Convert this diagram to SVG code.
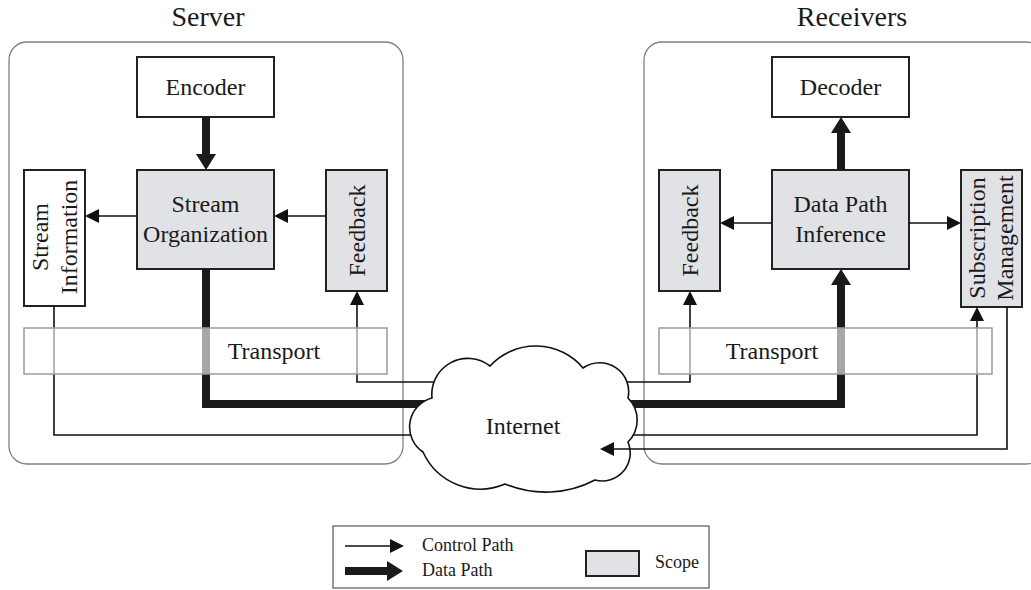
<svg xmlns="http://www.w3.org/2000/svg" xmlns:xlink="http://www.w3.org/1999/xlink" width="1031" height="590" viewBox="0 0 1031 590">
  <style>
    text { font-family: "Liberation Serif", "Times New Roman", serif; fill: #1a1a1a; }
    .title { font-size: 28px; text-anchor: middle; }
    .lbl { font-size: 24px; text-anchor: middle; }
    .leg { font-size: 18px; }
    .container { fill: none; stroke: #808080; stroke-width: 1.3; }
    .box { fill: #ffffff; stroke: #222222; stroke-width: 2; }
    .scope { fill: #e0e2e6; stroke: #222222; stroke-width: 2; }
    .band { fill: #ffffff; fill-opacity: 0.62; stroke: #9a9a9a; stroke-width: 1.5; }
    .ctrl { fill: none; stroke: #111111; stroke-width: 1.6; }
    .data { fill: none; stroke: #1a1a1a; stroke-width: 8; stroke-linejoin: miter; }
    .cloud { fill: #ffffff; stroke: #111111; stroke-width: 1.6; }
  </style>
  <defs>
    <marker id="ctrlHead" markerUnits="userSpaceOnUse" viewBox="0 0 14 14" refX="0" refY="7" markerWidth="14" markerHeight="14" orient="auto">
      <path d="M0,0 L14,7 L0,14 Z" fill="#111111"/>
    </marker>
    <marker id="dataHead" markerUnits="userSpaceOnUse" viewBox="0 0 16 20" refX="0" refY="10" markerWidth="16" markerHeight="20" orient="auto">
      <path d="M0,0 L16,10 L0,20 Z" fill="#1a1a1a"/>
    </marker>
    <path id="cloudShape" d="M423,452 A30,30 0 0 1 432,398 A36,36 0 0 1 490,366 A62,62 0 0 1 583,368 A29,29 0 0 1 628,398 A31,31 0 0 1 628,442 A28,28 0 0 1 595,480 A106,106 0 0 1 505,484 A63,63 0 0 1 423,452 Z"/>
    <!-- hides the parts of links that run behind the Internet cloud -->
    <mask id="behindCloud" maskUnits="userSpaceOnUse" x="0" y="0" width="1031" height="590">
      <rect x="0" y="0" width="1031" height="590" fill="#ffffff"/>
      <use xlink:href="#cloudShape" fill="#000000"/>
    </mask>
  </defs>

  <rect width="1031" height="590" fill="#ffffff"/>

  <!-- Server side -->
  <g id="server">
    <rect class="container" x="9" y="42" width="394" height="422" rx="18"/>
    <text class="title" x="208" y="26">Server</text>
  </g>
  <!-- Receiver side -->
  <g id="receivers">
    <rect class="container" x="644" y="42" width="400" height="422" rx="18"/>
    <text class="title" x="852" y="26">Receivers</text>
  </g>

  <g id="encoder">
    <rect class="box" x="137" y="57" width="137" height="60"/>
    <text class="lbl" x="205.5" y="95">Encoder</text>
  </g>
  <g id="stream-organization">
    <rect class="scope" x="137" y="170" width="137" height="99"/>
    <text class="lbl" x="205.5" y="212">Stream</text>
    <text class="lbl" x="205.5" y="242">Organization</text>
  </g>
  <g id="stream-information">
    <rect class="box" x="24" y="170" width="61" height="136"/>
    <text class="lbl" transform="translate(48,237) rotate(-90)">Stream</text>
    <text class="lbl" transform="translate(77,237) rotate(-90)">Information</text>
  </g>
  <g id="server-feedback">
    <rect class="scope" x="326" y="170" width="61" height="121"/>
    <text class="lbl" transform="translate(365,230.5) rotate(-90)">Feedback</text>
  </g>

  <g id="decoder">
    <rect class="box" x="772" y="57" width="137" height="60"/>
    <text class="lbl" x="840.5" y="95">Decoder</text>
  </g>
  <g id="data-path-inference">
    <rect class="scope" x="772" y="170" width="137" height="99"/>
    <text class="lbl" x="840.5" y="212">Data Path</text>
    <text class="lbl" x="840.5" y="242">Inference</text>
  </g>
  <g id="receiver-feedback">
    <rect class="scope" x="659" y="170" width="61" height="121"/>
    <text class="lbl" transform="translate(698,230.5) rotate(-90)">Feedback</text>
  </g>
  <g id="subscription-management">
    <rect class="scope" x="961" y="170" width="61" height="137"/>
    <text class="lbl" transform="translate(985,238) rotate(-90)">Subscription</text>
    <text class="lbl" transform="translate(1013,238) rotate(-90)">Management</text>
  </g>

  <g id="internet">
    <use xlink:href="#cloudShape" class="cloud"/>
    <text class="lbl" x="523" y="434">Internet</text>
  </g>

  <g id="connectors">
    <!-- data path -->
    <path class="data" d="M206,117 V154" marker-end="url(#dataHead)"/>
    <path class="data" d="M841,170 V133" marker-end="url(#dataHead)"/>
    <path class="data" d="M206,269 V404 H841 V285" marker-end="url(#dataHead)" mask="url(#behindCloud)"/>
    <!-- control path -->
    <path class="ctrl" d="M137,216 H99" marker-end="url(#ctrlHead)"/>
    <path class="ctrl" d="M326,216 H288" marker-end="url(#ctrlHead)"/>
    <path class="ctrl" d="M772,223 H734" marker-end="url(#ctrlHead)"/>
    <path class="ctrl" d="M909,223 H947" marker-end="url(#ctrlHead)"/>
    <path class="ctrl" d="M480,382 H357 V305" marker-end="url(#ctrlHead)" mask="url(#behindCloud)"/>
    <path class="ctrl" d="M560,382 H690 V305" marker-end="url(#ctrlHead)" mask="url(#behindCloud)"/>
    <path class="ctrl" d="M54,306 V435 H977 V321" marker-end="url(#ctrlHead)" mask="url(#behindCloud)"/>
    <path class="ctrl" d="M1007,307 V449 H614" marker-end="url(#ctrlHead)"/>
  </g>

  <g id="server-transport">
    <rect class="band" x="24" y="328" width="363" height="46"/>
    <text class="lbl" x="274" y="359">Transport</text>
  </g>
  <g id="receiver-transport">
    <rect class="band" x="659" y="328" width="333" height="46"/>
    <text class="lbl" x="772" y="359">Transport</text>
  </g>

  <g id="legend">
    <rect x="333" y="526" width="376" height="62" fill="#ffffff" stroke="#555555" stroke-width="1.2"/>
    <path class="ctrl" d="M345,546 H390" marker-end="url(#ctrlHead)"/>
    <path class="data" d="M345,571 H387" marker-end="url(#dataHead)"/>
    <text class="leg" x="422" y="551">Control Path</text>
    <text class="leg" x="422" y="576">Data Path</text>
    <rect class="scope" x="586" y="551" width="53" height="25" stroke-width="1.6"/>
    <text class="leg" x="655" y="568">Scope</text>
  </g>
</svg>
